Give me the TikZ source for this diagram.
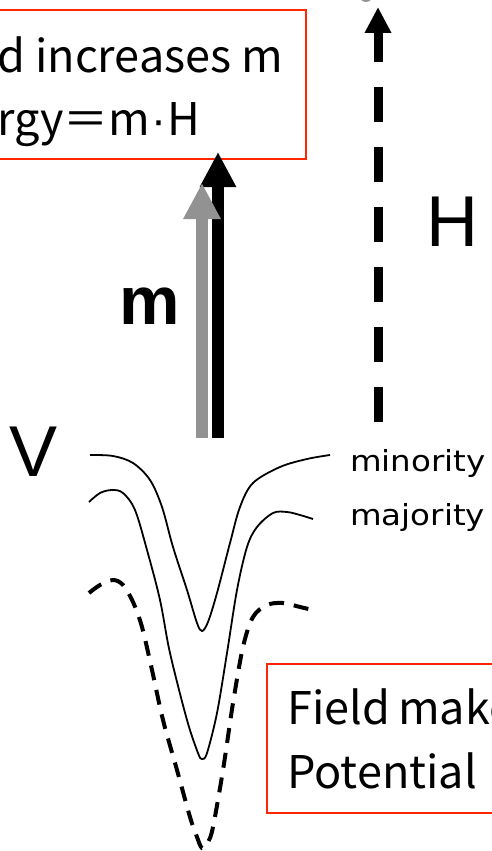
\documentclass[tikz,border=0pt]{standalone}
\usepackage{fontspec}
\newfontfamily\jpfont{Noto Sans CJK JP}
\newfontfamily\labfont{Liberation Sans}
\newfontfamily\smallfont[FakeStretch=1.12]{DejaVu Sans}
\usetikzlibrary{arrows.meta}
\definecolor{boxred}{RGB}{255,38,0}
\definecolor{arrgray}{RGB}{146,146,146}
\tikzset{
  redbox/.style={draw=boxred, line width=2pt, rectangle, inner sep=0pt, anchor=north west},
  boxtext/.style={inner sep=0pt, anchor=base west, font=\jpfont\fontsize{45}{45}\selectfont},
  biglabel/.style={inner sep=0pt, font=\labfont\fontsize{72}{72}\selectfont},
  spinlabel/.style={inner sep=0pt, anchor=base west, font=\smallfont\fontsize{29}{29}\selectfont},
  curve/.style={line width=1.8pt, smooth, tension=0.55},
  dcurve/.style={line width=4pt, dash pattern=on 15pt off 10pt, smooth, tension=0.55}
}
\begin{document}
\begin{tikzpicture}[x=1pt, y=-1pt]
\useasboundingbox (0,0) rectangle (492,851);
% boxes
\node[redbox, minimum width=340pt, minimum height=149pt] (topbox) at (-35,9) {};
\node[boxtext] (t1) at (-3,72) {d increases m};
\node[boxtext] (t2) at (-3,135) {rgy＝m{\labfont\kern1pt·\kern1pt}H};
\node[redbox, minimum width=260pt, minimum height=149pt] (botbox) at (266,663) {};
\node[boxtext] (b1) at (287,724) {Field\kern-2pt{} make};
\node[boxtext] (b2) at (287,788) {Potential};
% moment arrows
\coordinate (mblack0) at (218,438);
\coordinate (mblack1) at (218,152);
\coordinate (mgray0) at (202,438);
\coordinate (mgray1) at (202,183);
\draw[line width=12pt, -{Triangle[width=34pt,length=35pt]}] (mblack0) -- (mblack1);
\draw[arrgray, line width=12pt, -{Triangle[width=35pt,length=36pt]}] (mgray0) -- (mgray1);
% field arrow
\coordinate (h0) at (378,422);
\coordinate (h1) at (378,7);
\draw[line width=9pt, dash pattern=on 35pt off 25pt, -{Triangle[width=25pt,length=26pt]}] (h0) -- (h1);
\draw[arrgray, line width=2pt] (366,-8) ellipse [x radius=7pt, y radius=9pt];
% labels
\node[biglabel, font=\labfont\bfseries\fontsize{68}{68}\selectfont] (mlab) at (150,306) {m};
\node[biglabel] (hlab) at (452,222) {H};
\node[biglabel] (vlab) at (34,452) {V};
\node[spinlabel] (minl) at (350,471) {minority};
\node[spinlabel] (majl) at (350,525) {majority};
% potentials
\draw[curve] plot coordinates {(90,455) (113,456) (133,463) (150,480) (162,507) (173,547) (187,590) (197,623) (202,631) (208,622) (217,593) (230,543) (240,507) (253,483) (280,467) (307,459) (330,455)};
\draw[curve] plot coordinates {(89,502) (100,493) (112,490) (123,493) (135,510) (147,550) (160,600) (170,653) (187,720) (198,753) (202,759) (207,753) (217,713) (227,653) (237,590) (247,547) (257,527) (273,513) (287,512) (300,515) (313,519)};
\draw[dcurve] plot coordinates {(89,593) (100,585) (113,580) (123,585) (133,602) (142,627) (152,670) (163,720) (177,770) (190,817) (197,837) (202,848) (208,842) (213,827) (223,770) (233,703) (243,647) (253,617) (267,605) (283,603) (300,607) (313,610)};
\end{tikzpicture}
\end{document}
